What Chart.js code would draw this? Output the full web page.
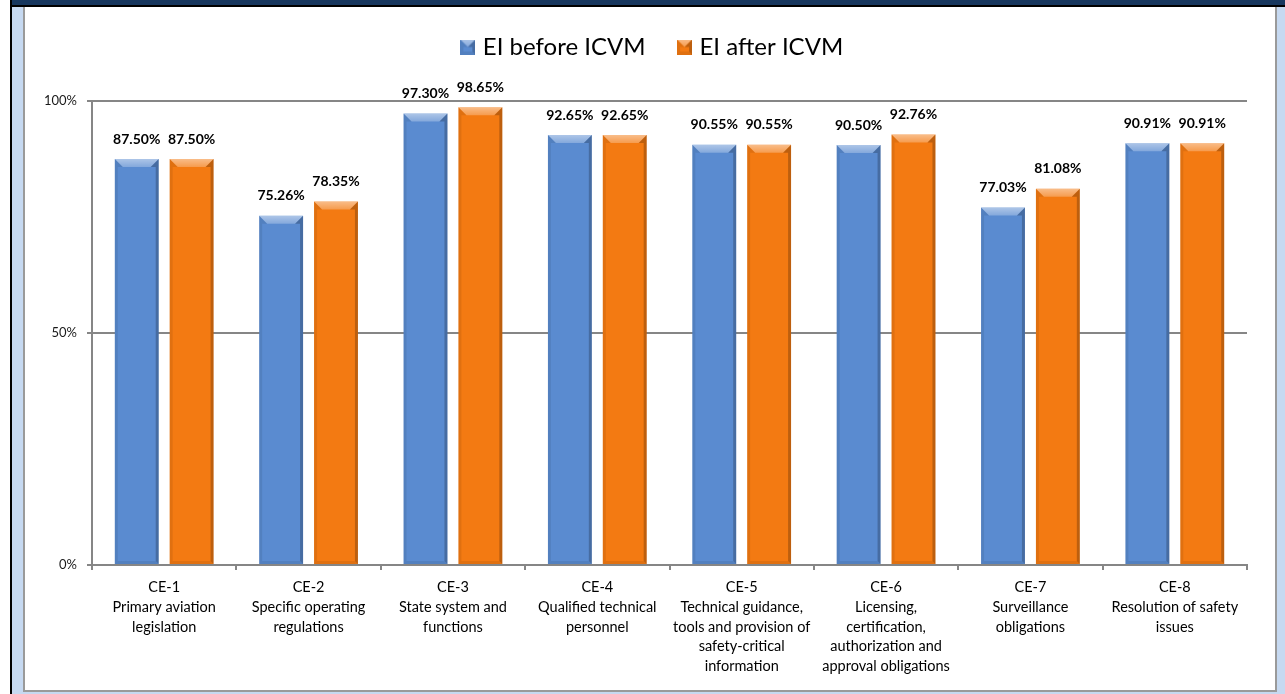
<!DOCTYPE html>
<html>
<head>
<meta charset="utf-8">
<script src="https://cdn.jsdelivr.net/npm/chart.js@4/dist/chart.umd.min.js"></script>
<style>
  html, body { margin: 0; padding: 0; background: #fff; }
  #page { position: absolute; left: 10px; top: 0; width: 1275px; height: 694px; background: #c6d9f1; border-left: 2px solid #000; box-sizing: border-box; }
  #topbar { position: absolute; left: 0; top: 0; width: 100%; height: 5px; background: #17375e; border-bottom: 2px solid #000; }
  #box { position: absolute; left: 11px; top: 7px; width: 1254px; height: 685px; background: #fff; border: 2px solid #9a9a9a; border-top: none; box-sizing: border-box; }
  #chartWrap { position: absolute; left: 0; top: 0; width: 1250px; height: 683px; }
</style>
</head>
<body>
<div id="page">
  <div id="topbar"></div>
  <div id="box"><div id="chartWrap"><canvas id="myChart" width="1250" height="683"></canvas></div></div>
</div>
<script>
var categories = [
  ["CE-1", "Primary aviation", "legislation"],
  ["CE-2", "Specific operating", "regulations"],
  ["CE-3", "State system and", "functions"],
  ["CE-4", "Qualified technical", "personnel"],
  ["CE-5", "Technical guidance,", "tools and provision of", "safety-critical", "information"],
  ["CE-6", "Licensing,", "certification,", "authorization and", "approval obligations"],
  ["CE-7", "Surveillance", "obligations"],
  ["CE-8", "Resolution of safety", "issues"]
];
var eiBefore = [87.50, 75.26, 97.30, 92.65, 90.55, 90.50, 77.03, 90.91];
var eiAfter = [87.50, 78.35, 98.65, 92.65, 90.55, 92.76, 81.08, 90.91];
var yTicks = [0, 50, 100];

var blue = "#5a8bd0";
var orange = "#f37a12";

// excel-like bevel drawn over a bar rectangle
function bevel(ctx, left, top, right, bottom) {
  var b = Math.min(8, (bottom - top) / 2);
  var s = 3;
  ctx.save();
  var g = ctx.createLinearGradient(0, top, 0, top + b);
  g.addColorStop(0, "rgba(255,255,255,0.5)");
  g.addColorStop(1, "rgba(255,255,255,0.25)");
  ctx.fillStyle = g;
  ctx.beginPath();
  ctx.moveTo(left, top); ctx.lineTo(right, top);
  ctx.lineTo(right - b, top + b); ctx.lineTo(left + b, top + b);
  ctx.closePath(); ctx.fill();

  ctx.fillStyle = "rgba(0,0,0,0.08)";
  ctx.beginPath();
  ctx.moveTo(left, top); ctx.lineTo(left + b, top + b); ctx.lineTo(left + s, top + b);
  ctx.lineTo(left + s, bottom - s); ctx.lineTo(left, bottom);
  ctx.closePath(); ctx.fill();

  ctx.fillStyle = "rgba(0,0,0,0.22)";
  ctx.beginPath();
  ctx.moveTo(right, top); ctx.lineTo(right - b, top + b); ctx.lineTo(right - s, top + b);
  ctx.lineTo(right - s, bottom - s); ctx.lineTo(right, bottom);
  ctx.closePath(); ctx.fill();

  ctx.fillStyle = "rgba(0,0,0,0.08)";
  ctx.beginPath();
  ctx.moveTo(left, bottom); ctx.lineTo(left + s, bottom - s);
  ctx.lineTo(right - s, bottom - s); ctx.lineTo(right, bottom);
  ctx.closePath(); ctx.fill();
  ctx.restore();
}

function swatch(color) {
  var c = document.createElement("canvas");
  c.width = 15; c.height = 15;
  var cx = c.getContext("2d");
  cx.fillStyle = color;
  cx.fillRect(0, 0, 15, 15);
  bevel(cx, 0, 0, 15, 15);
  return c;
}

var barBevel = {
  id: "barBevel",
  afterDatasetsDraw: function(chart) {
    var ctx = chart.ctx;
    chart.data.datasets.forEach(function(ds, i) {
      var meta = chart.getDatasetMeta(i);
      meta.data.forEach(function(bar) {
        var w = bar.width;
        bevel(ctx, bar.x - w / 2, bar.y, bar.x + w / 2, bar.base);
      });
    });
  }
};

var valueLabels = {
  id: "valueLabels",
  afterDatasetsDraw: function(chart) {
    var ctx = chart.ctx;
    ctx.save();
    ctx.font = "bold 14px Lato";
    ctx.fillStyle = "#000";
    ctx.textAlign = "center";
    ctx.textBaseline = "middle";
    chart.data.datasets.forEach(function(ds, i) {
      var meta = chart.getDatasetMeta(i);
      meta.data.forEach(function(bar, j) {
        ctx.fillText(ds.data[j].toFixed(2) + "%", bar.x, bar.y - 20);
      });
    });
    ctx.restore();
  }
};

// legend sits higher than its padding allows, and leaves more room below it
var legendSpace = {
  id: "legendSpace",
  beforeLayout: function(chart) {
    var lg = chart.legend;
    if (!lg || lg._spaced) return;
    var fit = lg.fit, draw = lg.draw;
    lg.fit = function() { fit.call(this); this.height += 24; };
    lg.draw = function() {
      this.ctx.save();
      this.ctx.translate(18, -8);
      draw.apply(this, arguments);
      this.ctx.restore();
    };
    lg._spaced = true;
  }
};

var ctx = document.getElementById("myChart");
var myBarChart = new Chart(ctx, {
  type: "bar",
  data: {
    labels: categories,
    datasets: [{
      label: "EI before ICVM",
      data: eiBefore,
      backgroundColor: blue,
      pointStyle: swatch(blue)
    }, {
      label: "EI after ICVM",
      data: eiAfter,
      backgroundColor: orange,
      pointStyle: swatch(orange)
    }]
  },
  options: {
    responsive: false,
    animation: false,
    datasets: { bar: { categoryPercentage: 0.76, barPercentage: 0.8 } },
    layout: { padding: { top: 0, right: 28, left: 0, bottom: 0 } },
    plugins: {
      tooltip: { enabled: false },
      legend: {
        position: "top",
        labels: {
          usePointStyle: true,
          pointStyleWidth: 6,
          boxWidth: 6,
          padding: 36,
          color: "#000",
          font: { family: "Lato", size: 24 }
        }
      }
    },
    scales: {
      x: {
        grid: { offset: true, drawOnChartArea: false, drawTicks: true, tickLength: 5, color: "#868686", lineWidth: 2 },
        border: { color: "#868686", width: 2 },
        ticks: { autoSkip: false, maxRotation: 0, padding: 8, color: "#000", font: { family: "Lato", size: 14.5, lineHeight: 1.35 } },
        afterFit: function(scale) { scale.height = 125; }
      },
      y: {
        min: 0,
        max: 100,
        afterBuildTicks: function(scale) { scale.ticks = yTicks.map(function(v) { return { value: v }; }); },
        grid: { color: "#868686", lineWidth: 2, tickLength: 5 },
        border: { color: "#868686", width: 2 },
        ticks: { padding: 10, color: "#1a1a1a", font: { family: "Lato", size: 13 }, callback: function(v) { return v + "%"; } },
        afterFit: function(scale) { scale.width = 67; }
      }
    }
  },
  plugins: [barBevel, valueLabels, legendSpace]
});
</script>
</body>
</html>
